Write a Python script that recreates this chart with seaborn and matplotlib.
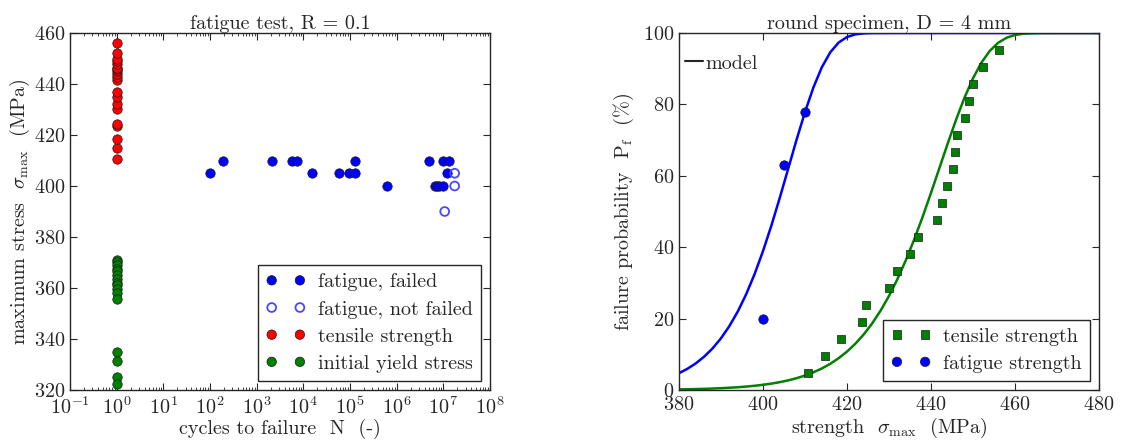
import numpy as np
import pandas as pd
import matplotlib
matplotlib.use("Agg")
import matplotlib.pyplot as plt
from matplotlib.lines import Line2D
from matplotlib.ticker import LogLocator, NullFormatter
import seaborn as sns

# ---- left panel: fatigue test ----
# tensile test results (static, plotted at N = 1)
tensile_strength = [410.6, 414.8, 418.5, 423.6, 424.5, 430.0, 432.0, 434.9, 436.9, 441.5,
                    442.6, 443.8, 445.2, 445.8, 446.1, 448.0, 449.0, 449.9, 452.3, 456.1]
yield_stress = [371.0, 370.0, 369.0, 367.5, 366.5, 365.0, 363.5, 362.0, 361.0, 359.5,
                358.0, 355.5, 335.0, 331.5, 325.0, 322.2]
static_cycles = 1.0

failed_N = [1.0e2, 1.55e4, 5.8e4, 9.3e4, 1.3e5, 1.17e7,
            1.9e2, 2.1e3, 5.8e3, 7.4e3, 1.3e5, 4.9e6, 9.8e6, 1.3e7,
            6.2e5, 6.5e6, 7.2e6, 8.1e6, 9.8e6]
failed_S = [405, 405, 405, 405, 405, 405,
            410, 410, 410, 410, 410, 410, 410, 410,
            400, 400, 400, 400, 400]
runout_N = [1.75e7, 1.75e7, 1.07e7]
runout_S = [405, 400, 390]

log_ticks = [1e-1, 1e0, 1e1, 1e2, 1e3, 1e4, 1e5, 1e6, 1e7, 1e8]
log_labels = [r"$10^{-1}$", r"$10^{0}$", r"$10^{1}$", r"$10^{2}$", r"$10^{3}$",
              r"$10^{4}$", r"$10^{5}$", r"$10^{6}$", r"$10^{7}$", r"$10^{8}$"]

# ---- right panel: failure probability ----
tensile_pf = [4.8, 9.5, 14.3, 19.0, 23.8, 28.6, 33.3, 38.1, 42.9, 47.6,
              52.4, 57.1, 61.9, 66.7, 71.4, 76.2, 81.0, 85.7, 90.5, 95.2]
fatigue_strength = [400, 405, 410]
fatigue_pf = [20.0, 63.0, 78.0]

model_fat_x = [380, 382, 384, 386, 388, 390, 392, 394, 396, 398, 400, 402, 404,
               406, 408, 410, 412, 414, 416, 418, 420, 422, 424, 426, 430, 480]
model_fat_y = [4.71, 5.94, 7.46, 9.35, 11.66, 14.49, 17.91, 22.00, 26.84, 32.47,
               38.91, 46.08, 53.86, 61.99, 70.13, 77.87, 84.74, 90.38, 94.57, 97.32,
               98.88, 99.62, 99.90, 99.98, 100.0, 100.0]
model_ten_x = [380, 382, 384, 386, 388, 390, 392, 394, 396, 398, 400, 402, 404,
               406, 408, 410, 412, 414, 416, 418, 420, 422, 424, 426, 428, 430,
               432, 434, 436, 438, 440, 442, 444, 446, 448, 450, 452, 454, 456,
               458, 460, 462, 464, 466, 470, 480]
model_ten_y = [0.17, 0.21, 0.26, 0.33, 0.41, 0.51, 0.63, 0.77, 0.96, 1.18,
               1.46, 1.79, 2.20, 2.70, 3.31, 4.05, 4.95, 6.03, 7.33, 8.90,
               10.76, 12.98, 15.59, 18.66, 22.24, 26.35, 31.04, 36.32, 42.15, 48.49,
               55.22, 62.16, 69.11, 75.80, 81.95, 87.31, 91.69, 94.99, 97.27, 98.68,
               99.45, 99.80, 99.94, 99.98, 100.0, 100.0]

BLUE = (0, 0, 1)
GREEN = (0, 0.5, 0)
RED = (1, 0, 0)
FS = 14.5

sns.set_style("ticks")
plt.rcParams.update({
    "font.family": "cmr10",
    "mathtext.fontset": "cm",
    "axes.formatter.use_mathtext": True,
    "axes.unicode_minus": False,
    "font.size": FS,
    "axes.labelsize": FS,
    "axes.titlesize": FS,
    "xtick.labelsize": FS,
    "ytick.labelsize": FS,
    "legend.fontsize": FS,
    "axes.edgecolor": "0.15",
    "axes.linewidth": 1.0,
    "xtick.direction": "in",
    "ytick.direction": "in",
    "xtick.top": True,
    "ytick.right": True,
    "xtick.major.size": 5,
    "ytick.major.size": 5,
    "xtick.minor.size": 2.5,
    "xtick.major.pad": 4.5,
    "ytick.major.pad": 3.5,
    "xtick.color": "0.15",
    "ytick.color": "0.15",
    "text.color": "0.15",
    "axes.labelcolor": "0.15",
})

fig = plt.figure(figsize=(11.24, 4.44), dpi=100)
ax1 = fig.add_axes([70 / 1124, 1 - 390 / 444, 420 / 1124, 357 / 444])
ax2 = fig.add_axes([679 / 1124, 1 - 390 / 444, 420 / 1124, 357 / 444])

# left
sns.scatterplot(x=failed_N, y=failed_S, color=BLUE, edgecolor="0.1", linewidth=0.5,
                s=46, label="fatigue, failed", ax=ax1, zorder=3)
sns.scatterplot(x=runout_N, y=runout_S, facecolor="none", edgecolor="#4848ff",
                linewidth=1.3, s=40, label="fatigue, not failed", ax=ax1, zorder=3)
sns.scatterplot(x=np.full(len(tensile_strength), static_cycles), y=tensile_strength,
                color=RED, edgecolor="0.1", linewidth=0.5, s=46,
                label="tensile strength", ax=ax1, zorder=3)
sns.scatterplot(x=np.full(len(yield_stress), static_cycles), y=yield_stress,
                color=GREEN, edgecolor="0.1", linewidth=0.5, s=46,
                label="initial yield stress", ax=ax1, zorder=3)

ax1.set_xscale("log")
ax1.set_xlim(1e-1, 1e8)
ax1.set_ylim(320, 460)
ax1.set_xticks(log_ticks)
ax1.set_xticklabels(log_labels)
ax1.xaxis.set_minor_locator(LogLocator(base=10, subs=np.arange(2, 10), numticks=30))
ax1.xaxis.set_minor_formatter(NullFormatter())
ax1.set_yticks(np.arange(320, 461, 20))
ax1.set_title("fatigue test, R = 0.1", pad=3)
ax1.set_xlabel("cycles to failure  N  (-)", labelpad=1)
ax1.set_ylabel(r"maximum stress  $\sigma_{\mathrm{max}}$  (MPa)", labelpad=1)
leg1 = ax1.legend(loc="lower right", scatterpoints=2, scatteryoffsets=[0.5],
                  fancybox=False, framealpha=1, edgecolor="0.15",
                  borderaxespad=0.45, handletextpad=0.6, labelspacing=0.45)
leg1.get_frame().set_linewidth(1.0)

# right
model_fat = pd.DataFrame({"stress": model_fat_x, "pf": model_fat_y})
model_ten = pd.DataFrame({"stress": model_ten_x, "pf": model_ten_y})
sns.lineplot(data=model_fat, x="stress", y="pf", color=BLUE, lw=1.8,
             estimator=None, legend=False, ax=ax2)
sns.lineplot(data=model_ten, x="stress", y="pf", color=GREEN, lw=1.8,
             estimator=None, legend=False, ax=ax2)
sns.scatterplot(x=tensile_strength, y=tensile_pf, color=GREEN, marker="s",
                edgecolor="0.1", linewidth=0.5, s=38, label="tensile strength",
                ax=ax2, zorder=3)
sns.scatterplot(x=fatigue_strength, y=fatigue_pf, color=BLUE, marker="o",
                edgecolor="0.1", linewidth=0.5, s=46, label="fatigue strength",
                ax=ax2, zorder=3)

ax2.set_xlim(380, 480)
ax2.set_ylim(0, 100)
ax2.set_xticks(np.arange(380, 481, 20))
ax2.set_yticks(np.arange(0, 101, 20))
ax2.set_title("round specimen, D = 4 mm", pad=3)
ax2.set_xlabel(r"strength  $\sigma_{\mathrm{max}}$  (MPa)", labelpad=1)
ax2.set_ylabel(r"failure probability  $\mathrm{P_f}$  (%)", labelpad=5)

model_leg = ax2.legend(handles=[Line2D([], [], color="0.15", lw=1.5)], labels=["model"],
                       loc="upper left", bbox_to_anchor=(0.015, 0.94), frameon=False,
                       handlelength=0.9, handletextpad=0.1, borderaxespad=0,
                       borderpad=0)
ax2.add_artist(model_leg)
h, l = ax2.get_legend_handles_labels()
leg2 = ax2.legend(h, l, loc="lower right", scatterpoints=2, scatteryoffsets=[0.5],
                  fancybox=False, framealpha=1, edgecolor="0.15",
                  borderaxespad=0.45, handletextpad=0.6, labelspacing=0.45)
leg2.get_frame().set_linewidth(1.0)

for ax in (ax1, ax2):
    for sp in ax.spines.values():
        sp.set_visible(True)

fig.savefig("out.png", dpi=100)
